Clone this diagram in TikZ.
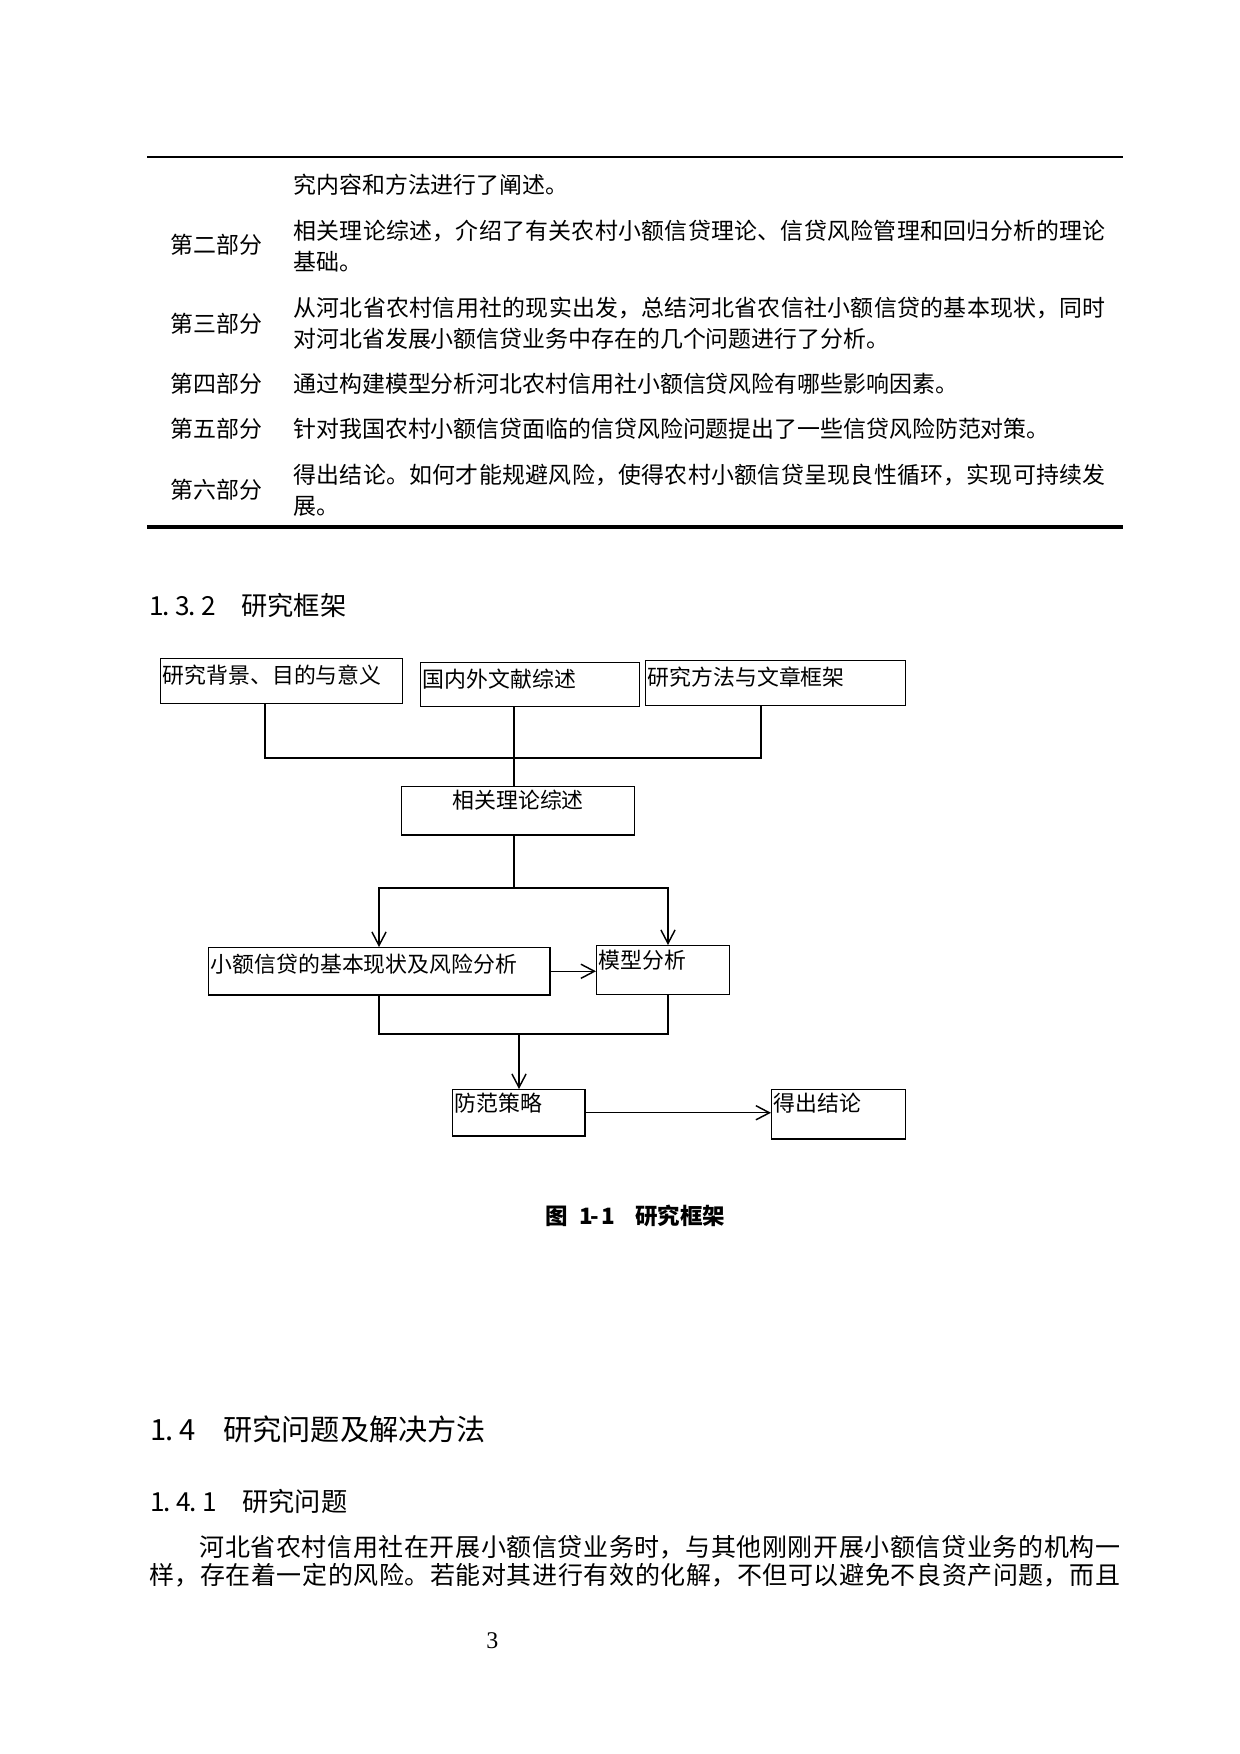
\documentclass[tikz,border=0pt]{standalone}
\usepackage{fontspec}
\setmainfont{Noto Sans CJK SC}
\newfontfamily\serif{Liberation Serif}
\usepackage{tikz}
\usetikzlibrary{arrows.meta}
\XeTeXlinebreaklocale "zh"
\XeTeXlinebreakskip=0pt plus 2pt
\newcommand{\hw}[1]{\makebox[0.5em][l]{#1}}
\tikzstyle{box}=[draw, line width=0.7pt, anchor=north west, inner xsep=1pt, inner ysep=0pt, text height=12pt, align=left, font=\fontsize{10.5pt}{12pt}\selectfont]
\tikzstyle{link}=[line width=0.7pt]
\tikzstyle{post}=[->, line width=0.7pt]
\tikzstyle{cell}=[anchor=base west, inner sep=0pt, font=\fontsize{11pt}{14.9pt}\selectfont]
\tikzstyle{head}=[anchor=base west, inner sep=0pt]

\begin{document}
\begin{tikzpicture}[x=0.48pt, y=-0.48pt, >={Straight Barb[length=6.5pt, width=6.8pt]}]
      \useasboundingbox (0,0) rectangle (1240,1754);
      \draw[line width=1pt] (147,157) -- (1123,157);
      \draw[line width=1.5pt] (147,527) -- (1123,527);
      \node[cell] (r1) at (293,193) {究内容和方法进行了阐述。};
      \node[cell] (l2) at (170,253) {第二部分};
      \node[cell, text width=390pt, align=justify] (r2) at (293,239) {相关理论综述，介绍了有关农村小额信贷理论、信贷风险管理和回归分析的理论\linebreak 基础。};
      \node[cell] (l3) at (170,332) {第三部分};
      \node[cell, text width=390pt, align=justify] (r3) at (293,316) {从河北省农村信用社的现实出发，总结河北省农信社小额信贷的基本现状，同时\linebreak 对河北省发展小额信贷业务中存在的几个问题进行了分析。};
      \node[cell] (l4) at (170,392) {第四部分};
      \node[cell] (r4) at (293,392) {通过构建模型分析河北农村信用社小额信贷风险有哪些影响因素。};
      \node[cell] (l5) at (170,437) {第五部分};
      \node[cell] (r5) at (293,437) {针对我国农村小额信贷面临的信贷风险问题提出了一些信贷风险防范对策。};
      \node[cell] (l6) at (170,498) {第六部分};
      \node[cell, text width=390pt, align=justify] (r6) at (293,483) {得出结论。如何才能规避风险，使得农村小额信贷呈现良性循环，实现可持续发\linebreak 展。};

      \node[head, font=\fontsize{12.6pt}{15pt}\selectfont] (h132) at (149,615) {\hw{1}\hw{.}\hw{3}\hw{.}\hw{2}\hspace{1em}研究框架};

      \node[box, text width=114pt, text depth=9.6pt] (bg) at (160,658) {研究背景、目的与意义};
      \node[box, text width=103pt, text depth=9.1pt] (lit) at (420,662) {国内外文献综述};
      \node[box, text width=122.8pt, text depth=9.6pt] (meth) at (645,660) {研究方法与文章框架};
      \node[box, minimum width=111.8pt, text height=10.6pt, text depth=12.5pt] (theo) at (401,786) {相关理论综述};
      \node[box, text width=161.7pt, text depth=10.6pt] (stat) at (208,947) {小额信贷的基本现状及风险分析};
      \node[box, text width=61.8pt, text height=11pt, text depth=12.5pt] (model) at (596,945) {模型分析};
      \node[box, text width=61.4pt, text height=10.6pt, text depth=11.5pt] (pol) at (452,1089) {防范策略};
      \node[box, text width=62.3pt, text height=10.6pt, text depth=13pt] (con) at (771,1089) {得出结论};

      \coordinate (ja) at (265,758);
      \coordinate (jb) at (514,758);
      \coordinate (jd) at (761,758);
      \draw[link] (bg.south -| ja) -- (ja) -- (jd) -- (meth.south -| jd);
      \draw[link] (lit.south -| jb) -- (theo.north -| jb);
      \coordinate (jc) at (514,888);
      \coordinate (je) at (379,888);
      \coordinate (jf) at (668,888);
      \draw[link] (theo.south -| jc) -- (jc);
      \draw[post] (jc) -- (je) -- (stat.north -| je);
      \draw[post] (jc) -- (jf) -- (model.north -| jf);
      \draw[post] (stat.east) -- (model.west |- stat.east);
      \coordinate (ke) at (379,1034);
      \coordinate (kg) at (519,1034);
      \coordinate (kf) at (668,1034);
      \draw[link] (stat.south -| ke) -- (ke) -- (kf) -- (model.south -| kf);
      \draw[post] (kg) -- (pol.north -| kg);
      \draw[post] (pol.east) -- (con.west |- pol.east);

      \node[head, font=\fontsize{10.8pt}{13pt}\selectfont\bfseries] (cap) at (545,1224) {图\hspace{0.5em}\hw{1}\hw{-}\hw{1}\hspace{1em}研究框架};

      \node[head, font=\fontsize{14pt}{17pt}\selectfont] (h14) at (150,1440) {\hw{1}\hw{.}\hw{4}\hspace{1em}研究问题及解决方法};
      \node[head, font=\fontsize{12.6pt}{15pt}\selectfont] (h141) at (150,1511) {\hw{1}\hw{.}\hw{4}\hw{.}\hw{1}\hspace{1em}研究问题};
      \node[cell, font=\fontsize{12pt}{13.9pt}\selectfont, text width=466pt, align=justify] (txt) at (149,1556) {\hspace*{2em}河北省农村信用社在开展小额信贷业务时，与其他刚刚开展小额信贷业务的机构一\linebreak 样，存在着一定的风险。若能对其进行有效的化解，不但可以避免不良资产问题，而且\linebreak};

      \node[head, font=\serif\fontsize{11.5pt}{13pt}\selectfont] (pg) at (486,1648) {3};
  \end{tikzpicture}
\end{document}
